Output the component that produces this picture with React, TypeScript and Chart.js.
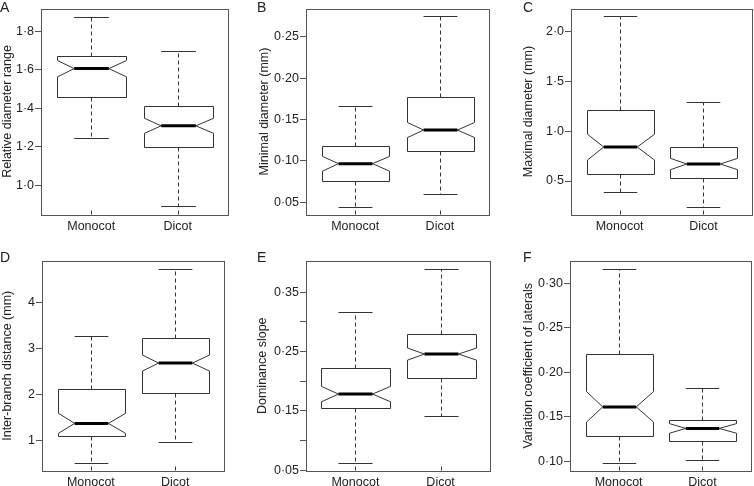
import React, { useEffect, useRef } from 'react';
import { Chart, registerables } from 'chart.js';

Chart.register(...registerables);

// ---------- data ----------
const categories = ['Monocot', 'Dicot'];
// each stat row: [lower whisker, Q1, notch low, median, notch high, Q3, upper whisker]
const relDiamMonocot = [1.244, 1.461, 1.564, 1.607, 1.649, 1.670, 1.878];
const relDiamDicot = [0.890, 1.197, 1.270, 1.309, 1.348, 1.410, 1.700];
const minDiamMonocot = [0.044, 0.0752, 0.0875, 0.0966, 0.1053, 0.118, 0.166];
const minDiamDicot = [0.0603, 0.112, 0.1282, 0.1373, 0.1464, 0.1768, 0.275];
const maxDiamMonocot = [0.386, 0.566, 0.711, 0.842, 0.970, 1.216, 2.157];
const maxDiamDicot = [0.241, 0.530, 0.614, 0.671, 0.728, 0.845, 1.297];
const interBranchMonocot = [0.522, 1.106, 1.156, 1.372, 1.589, 2.117, 3.277];
const interBranchDicot = [0.963, 2.022, 2.507, 2.680, 2.853, 3.221, 4.727];
const domSlopeMonocot = [0.0623, 0.1552, 0.1653, 0.1783, 0.1913, 0.2217, 0.3167];
const domSlopeDicot = [0.1406, 0.2053, 0.2356, 0.2458, 0.2560, 0.2791, 0.3899];
const varCoefMonocot = [0.098, 0.1279, 0.1440, 0.1611, 0.1783, 0.2202, 0.3164];
const varCoefDicot = [0.1011, 0.1223, 0.1315, 0.1369, 0.1423, 0.1463, 0.1821];

const ticksA = [1.0, 1.2, 1.4, 1.6, 1.8];
const labelsA = ['1·0', '1·2', '1·4', '1·6', '1·8'];
const ticksB = [0.05, 0.1, 0.15, 0.2, 0.25];
const labelsB = ['0·05', '0·10', '0·15', '0·20', '0·25'];
const ticksC = [0.5, 1.0, 1.5, 2.0];
const labelsC = ['0·5', '1·0', '1·5', '2·0'];
const ticksD = [1, 2, 3, 4];
const labelsD = ['1', '2', '3', '4'];
const ticksE = [0.05, 0.1, 0.15, 0.2, 0.25, 0.3, 0.35];
const labelsE = ['0·05', '', '0·15', '', '0·25', '', '0·35'];
const ticksF = [0.1, 0.15, 0.2, 0.25, 0.3];
const labelsF = ['0·10', '0·15', '0·20', '0·25', '0·30'];

const yRangeA = [0.847, 1.92];
const yRangeB = [0.035, 0.2845];
const yRangeC = [0.163, 2.236];
const yRangeD = [0.35, 4.894];
const yRangeE = [0.0494, 0.4028];
const yRangeF = [0.0896, 0.3251];

// ---------- layout / style ----------
const FONT = "'Liberation Sans', Arial, Helvetica, sans-serif";
const TEXT = '#222';
const LINE = '#333';
const BOX_WIDTH = 0.8;
const X_MIN = 0.42;
const X_MAX = 2.58;

type Panel = {
  letter: string;
  title: string;
  stats: number[][];
  ticks: number[];
  labels: string[];
  yRange: number[];
  left: number; top: number; w: number; h: number;
  fl: number; fr: number; ft: number; fb: number;
  titleCenter: number;
  letterX: number; letterY: number;
};

const panels: Panel[] = [
  { letter: 'A', title: 'Relative diameter range', stats: [relDiamMonocot, relDiamDicot], ticks: ticksA, labels: labelsA, yRange: yRangeA,
    left: 0, top: 0, w: 250, h: 240, fl: 41, fr: 228, ft: 4, fb: 214.5, titleCenter: 8, letterX: 0, letterY: 12 },
  { letter: 'B', title: 'Minimal diameter (mm)', stats: [minDiamMonocot, minDiamDicot], ticks: ticksB, labels: labelsB, yRange: yRangeB,
    left: 250, top: 0, w: 250, h: 240, fl: 56, fr: 239, ft: 4, fb: 214.5, titleCenter: 14.5, letterX: 7, letterY: 12 },
  { letter: 'C', title: 'Maximal diameter (mm)', stats: [maxDiamMonocot, maxDiamDicot], ticks: ticksC, labels: labelsC, yRange: yRangeC,
    left: 500, top: 0, w: 254, h: 240, fl: 71, fr: 252, ft: 4, fb: 214.5, titleCenter: 29, letterX: 23, letterY: 12 },
  { letter: 'D', title: 'Inter-branch distance (mm)', stats: [interBranchMonocot, interBranchDicot], ticks: ticksD, labels: labelsD, yRange: yRangeD,
    left: 0, top: 240, w: 250, h: 246, fl: 42, fr: 224, ft: 21, fb: 230.5, titleCenter: 8, letterX: 0, letterY: 22 },
  { letter: 'E', title: 'Dominance slope', stats: [domSlopeMonocot, domSlopeDicot], ticks: ticksE, labels: labelsE, yRange: yRangeE,
    left: 250, top: 240, w: 250, h: 246, fl: 56, fr: 240, ft: 21, fb: 230.5, titleCenter: 12.5, letterX: 7, letterY: 22 },
  { letter: 'F', title: 'Variation coefficient of laterals', stats: [varCoefMonocot, varCoefDicot], ticks: ticksF, labels: labelsF, yRange: yRangeF,
    left: 500, top: 240, w: 254, h: 246, fl: 70, fr: 251, ft: 21, fb: 230.5, titleCenter: 29, letterX: 23, letterY: 22 },
];

const crisp = (v: number) => Math.round(v) + 0.5;

const boxPlugin = {
  id: 'notchedBox',
  afterDatasetsDraw(chart: any, _args: any, opts: any) {
    const { ctx, chartArea: ca } = chart;
    const x = chart.scales.x;
    const y = chart.scales.y;
    const stats: number[][] = opts.stats;
    ctx.save();
    ctx.lineCap = 'butt';
    stats.forEach((s, i) => {
      const cx = crisp(x.getPixelForValue(i + 1));
      const hw = x.getPixelForValue(i + 1 + BOX_WIDTH / 2) - x.getPixelForValue(i + 1);
      const [lo, q1, nl, med, nh, q3, hi] = s.map((v) => y.getPixelForValue(v));
      const L = crisp(cx - hw);
      const R = crisp(cx + hw);
      ctx.strokeStyle = LINE;
      ctx.lineWidth = 1;
      // whiskers
      ctx.setLineDash([4, 3]);
      ctx.beginPath();
      ctx.moveTo(cx, crisp(q3));
      ctx.lineTo(cx, crisp(hi));
      ctx.moveTo(cx, crisp(q1));
      ctx.lineTo(cx, crisp(lo));
      ctx.stroke();
      ctx.setLineDash([]);
      // caps
      ctx.beginPath();
      ctx.moveTo(cx - hw / 2, crisp(hi));
      ctx.lineTo(cx + hw / 2, crisp(hi));
      ctx.moveTo(cx - hw / 2, crisp(lo));
      ctx.lineTo(cx + hw / 2, crisp(lo));
      ctx.stroke();
      // notched box
      ctx.beginPath();
      ctx.moveTo(L, crisp(q1));
      ctx.lineTo(L, nl);
      ctx.lineTo(cx - hw / 2, med);
      ctx.lineTo(L, nh);
      ctx.lineTo(L, crisp(q3));
      ctx.lineTo(R, crisp(q3));
      ctx.lineTo(R, nh);
      ctx.lineTo(cx + hw / 2, med);
      ctx.lineTo(R, nl);
      ctx.lineTo(R, crisp(q1));
      ctx.closePath();
      ctx.fillStyle = '#fff';
      ctx.fill();
      ctx.stroke();
      // median
      ctx.strokeStyle = '#000';
      ctx.lineWidth = 3;
      ctx.beginPath();
      ctx.moveTo(cx - hw / 2, med);
      ctx.lineTo(cx + hw / 2, med);
      ctx.stroke();
      // inward x tick
      ctx.strokeStyle = LINE;
      ctx.lineWidth = 1;
      ctx.beginPath();
      ctx.moveTo(cx, ca.bottom);
      ctx.lineTo(cx, ca.bottom - 4);
      ctx.stroke();
    });
    // frame
    ctx.strokeStyle = '#555';
    ctx.lineWidth = 1;
    ctx.strokeRect(crisp(ca.left), crisp(ca.top), Math.round(ca.right) - Math.round(ca.left), Math.round(ca.bottom) - Math.round(ca.top));
    // panel letter
    ctx.fillStyle = TEXT;
    ctx.font = `14px ${FONT}`;
    ctx.textAlign = 'left';
    ctx.textBaseline = 'alphabetic';
    ctx.fillText(opts.letter, opts.letterX, opts.letterY);
    ctx.restore();
  },
};

function PanelChart({ p }: { p: Panel }) {
  const ref = useRef<HTMLCanvasElement | null>(null);
  useEffect(() => {
    if (!ref.current) return;
    const chart = new Chart(ref.current, {
      type: 'scatter',
      data: { datasets: [] },
      plugins: [boxPlugin as any],
      options: {
        responsive: false,
        animation: false,
        devicePixelRatio: 1,
        layout: { padding: { left: 0, top: p.ft, right: p.w - p.fr, bottom: 0 } },
        plugins: {
          legend: { display: false },
          tooltip: { enabled: false },
          notchedBox: { stats: p.stats, letter: p.letter, letterX: p.letterX, letterY: p.letterY },
        } as any,
        scales: {
          x: {
            type: 'linear',
            min: X_MIN,
            max: X_MAX,
            afterBuildTicks: (s: any) => { s.ticks = categories.map((_, i) => ({ value: i + 1 })); },
            afterFit: (s: any) => { s.height = p.h - p.fb; },
            ticks: {
              autoSkip: false,
              maxRotation: 0,
              padding: 5,
              color: TEXT,
              font: { family: FONT, size: 12.5 },
              callback: (v: any) => categories[Math.round(Number(v)) - 1] ?? '',
            },
            grid: { display: false, drawTicks: false },
            border: { display: false },
          },
          y: {
            type: 'linear',
            min: p.yRange[0],
            max: p.yRange[1],
            afterBuildTicks: (s: any) => { s.ticks = p.ticks.map((v) => ({ value: v })); },
            afterFit: (s: any) => { s.width = p.fl; },
            ticks: {
              autoSkip: false,
              padding: 1,
              color: TEXT,
              font: { family: FONT, size: 12.5 },
              callback: (v: any) => {
                const idx = p.ticks.findIndex((t) => Math.abs(t - Number(v)) < 1e-9);
                return idx >= 0 ? p.labels[idx] : '';
              },
            },
            grid: { display: true, drawOnChartArea: false, drawTicks: true, tickLength: 6, color: '#555' },
            border: { display: false },
            title: {
              display: true,
              text: p.title,
              color: TEXT,
              font: { family: FONT, size: 12.5, lineHeight: 1.2 },
              padding: { top: Math.max(0, p.titleCenter - 7.5), bottom: 0 },
            },
          },
        },
      },
    });
    return () => chart.destroy();
  }, [p]);
  return (
    <canvas
      ref={ref}
      width={p.w}
      height={p.h}
      style={{ position: 'absolute', left: p.left, top: p.top, width: p.w, height: p.h, display: 'block' }}
    />
  );
}

export default function App() {
  return (
    <div style={{ position: 'absolute', left: 0, top: 0, width: 754, height: 486, background: '#fff', overflow: 'hidden' }}>
      {panels.map((p) => (
        <PanelChart key={p.letter} p={p} />
      ))}
    </div>
  );
}
